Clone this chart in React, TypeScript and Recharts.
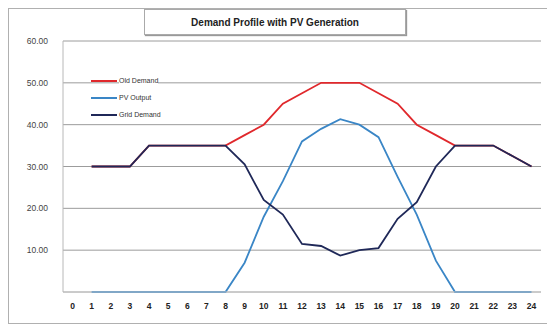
import React from 'react';
import { LineChart, Line, XAxis, YAxis, CartesianGrid } from 'recharts';

const hours = ['0', '1', '2', '3', '4', '5', '6', '7', '8', '9', '10', '11', '12', '13', '14', '15', '16', '17', '18', '19', '20', '21', '22', '23', '24'];
const oldDemand = [null, 30, 30, 30, 35, 35, 35, 35, 35, 37.5, 40, 45, 47.5, 50, 50, 50, 47.5, 45, 40, 37.5, 35, 35, 35, 32.5, 30];
const pvOutput = [null, 0, 0, 0, 0, 0, 0, 0, 0, 7, 18, 26.5, 36, 39, 41.3, 40, 37, 27.5, 18.5, 7.5, 0, 0, 0, 0, 0];
const gridDemand = [null, 30, 30, 30, 35, 35, 35, 35, 35, 30.5, 22, 18.5, 11.5, 11, 8.7, 10, 10.5, 17.5, 21.5, 30, 35, 35, 35, 32.5, 30];
const yTicks = [0, 10, 20, 30, 40, 50, 60];

const series = [
  { key: 'old', name: 'Old Demand', color: '#e0282c' },
  { key: 'pv', name: 'PV Output', color: '#3a86c6' },
  { key: 'grid', name: 'Grid Demand', color: '#1f2858' },
];

const data = hours.map((h, i) => ({
  hour: h,
  old: oldDemand[i],
  pv: pvOutput[i],
  grid: gridDemand[i],
}));

export default function App() {
  return (
    <div
      style={{
        position: 'relative',
        width: 545,
        height: 314,
        border: '1px solid #b0b0b0',
        background: '#fff',
        fontFamily: 'Arial, "Liberation Sans", sans-serif',
      }}
    >
      <LineChart width={545} height={314} data={data} margin={{ top: 32, right: 13, bottom: 0, left: 0 }}>
        <CartesianGrid vertical={false} stroke="#9c9c9c" />
        <XAxis
          dataKey="hour"
          padding={{ left: 9.5, right: 9.5 }}
          height={31}
          tickLine={false}
          axisLine={{ stroke: '#c8c8c8' }}
          tick={{ fontSize: 8.5, fill: '#222', fontWeight: 'bold' }}
          tickMargin={5}
          interval={0}
        />
        <YAxis
          width={54}
          domain={[0, 60]}
          ticks={yTicks}
          tickFormatter={(v: number) => (v === 0 ? '' : v.toFixed(2))}
          tickLine={false}
          axisLine={{ stroke: '#b8b8b8' }}
          tick={{ fontSize: 8.5, fill: '#444' }}
          tickMargin={9}
        />
        {series.map((s) => (
          <Line
            key={s.key}
            type="linear"
            dataKey={s.key}
            name={s.name}
            stroke={s.color}
            strokeWidth={1.8}
            dot={false}
            isAnimationActive={false}
          />
        ))}
      </LineChart>
      <div
        style={{
          position: 'absolute',
          left: 82,
          top: 63,
          fontSize: 7,
          color: '#333',
        }}
      >
        {series.map((s) => (
          <div key={s.key} style={{ display: 'flex', alignItems: 'center', height: 17 }}>
            <div style={{ width: 26, height: 2, background: s.color, marginRight: 2 }} />
            <span style={{ background: '#fff' }}>{s.name}</span>
          </div>
        ))}
      </div>
      <div
        style={{
          position: 'absolute',
          left: 135,
          top: 0,
          width: 260,
          height: 24,
          border: '1px solid #aaa',
          boxShadow: '1px 1px 1px #999',
          background: '#fff',
          display: 'flex',
          alignItems: 'center',
          justifyContent: 'center',
          fontSize: 10,
          fontWeight: 'bold',
          color: '#222',
        }}
      >
        Demand Profile with PV Generation
      </div>
    </div>
  );
}
